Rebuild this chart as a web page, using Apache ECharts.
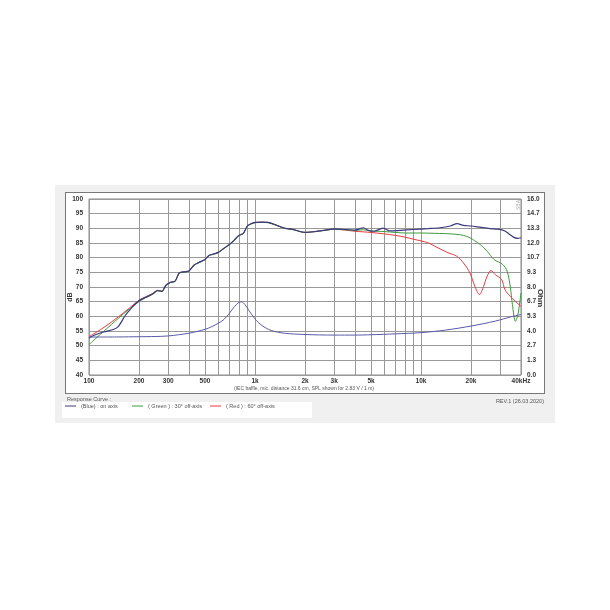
<!DOCTYPE html>
<html>
<head>
<meta charset="utf-8">
<script src="https://cdn.jsdelivr.net/npm/echarts@6/dist/echarts.min.js"></script>
<style>
html,body{margin:0;padding:0;background:#fff;}
#bg{position:absolute;left:55px;top:185px;width:500px;height:238px;background:#f0f0f0;}
#box{position:absolute;left:65px;top:192px;width:478px;height:200px;background:#fff;border:1px solid #777;}
#lg{position:absolute;left:62px;top:402px;width:250px;height:16px;background:#fff;}
#c{position:absolute;left:0;top:0;width:610px;height:610px;}
</style>
</head>
<body>
<div id="bg"></div><div id="box"></div><div id="lg"></div>
<div id="c"></div>
<script>
// ---- data ----
const xTicks = [100,200,300,400,500,600,700,800,900,1000,2000,3000,4000,5000,6000,7000,8000,9000,10000,20000,30000,40000];
const xLabels = [100,200,300,500,1000,2000,3000,5000,10000,20000,40000];

const blueF = [100,110,125,140,150,165,180,200,220,240,260,275,290,310,330,350,380,400,430,460,500,530,560,600,650,700,750,800,850,900,950,1000,1100,1200,1300,1500,1700,2000,2300,2600,3000,3500,4000,4500,4800,5200,5900,6500,7500,9000,11000,13000,15000,16500,18000,20000,23000,26000,29000,32000,34000,36000,38000,40000];
const blueDB = [52.6,53.8,54.8,55.5,56.5,60.2,62.8,65.3,66.5,67.5,68.8,68.5,70.5,71.6,72.0,74.8,75.2,75.5,77.5,78.4,79.4,80.8,81.2,81.8,83.2,84.5,86.0,87.6,88.3,90.8,91.6,92.0,92.1,92.0,91.4,90.1,89.6,88.6,88.9,89.3,89.8,89.6,89.4,90.2,89.3,89.0,90.1,89.1,89.3,89.6,89.9,90.2,90.8,91.6,91.0,90.8,90.3,89.9,89.7,89.1,88.0,87.0,86.6,86.8];

const greenF = [100,110,125,150,175,200,220,240,260,275,290,310,330,350,380,400,430,460,500,530,560,600,650,700,750,800,850,900,950,1000,1100,1200,1300,1500,1700,2000,2300,2600,3000,3500,4000,4500,5000,5500,6000,7000,8000,10000,12000,14000,16000,18000,19700,21000,22700,25000,27500,31000,33000,34500,35500,37000,38300,40000];
const greenDB = [50.3,52.5,55.3,59.3,62.5,65.0,66.4,67.4,68.7,68.4,70.4,71.5,71.9,74.7,75.1,75.4,77.4,78.3,79.3,80.7,81.1,81.7,83.1,84.4,85.9,87.5,88.2,90.7,91.5,91.9,92.0,91.9,91.3,90.0,89.5,88.6,88.9,89.3,89.7,89.5,89.3,89.5,89.1,89.0,88.9,88.6,88.4,88.4,88.3,88.2,88.0,87.6,86.8,85.8,84.5,82.2,79.4,77.7,75.4,70.0,64.0,58.3,60.5,68.0];

const redF = [100,110,125,150,175,200,220,240,260,275,290,310,330,350,380,400,430,460,500,530,560,600,650,700,750,800,850,900,950,1000,1100,1200,1300,1500,1700,2000,2300,2600,3000,3500,4000,5000,6000,7000,8000,9000,10000,11000,12000,14500,16400,18000,19700,21100,22500,23800,25000,26400,28000,30600,32000,34500,37000,40000];
const redDB = [53.1,54.5,56.5,59.8,62.8,65.5,66.7,67.7,68.9,68.6,70.5,71.6,72.0,74.8,75.2,75.5,77.5,78.4,79.4,80.8,81.2,81.8,83.2,84.5,86.0,87.6,88.3,90.8,91.6,92.0,92.1,92.0,91.4,90.1,89.6,88.6,88.9,89.3,89.7,89.4,89.0,88.6,88.1,87.6,87.0,86.3,85.7,85.1,84.0,81.7,80.5,78.2,74.8,70.2,67.4,70.2,73.7,75.6,74.2,72.5,69.1,66.8,65.1,63.4];

const impF = [100,150,200,250,300,400,500,550,600,650,700,750,800,830,870,920,1000,1100,1250,1500,2000,3000,4000,5000,7000,10000,14000,20000,28000,35000,40000];
const impOhm = [3.45,3.46,3.48,3.50,3.55,3.80,4.15,4.40,4.70,5.05,5.60,6.20,6.60,6.65,6.40,5.85,5.10,4.50,4.05,3.80,3.68,3.63,3.63,3.66,3.74,3.85,4.08,4.45,4.90,5.30,5.50];

const zip = (a,b) => a.map((v,i)=>[v,b[i]]);

const chart = echarts.init(document.getElementById('c'), null, {renderer:'canvas'});
const FF = 'Liberation Sans, Arial, sans-serif';
const lab = {color:'#333', fontSize:6.5, fontWeight:'bold', fontFamily:FF};
const option = {
  animation:false,
  backgroundColor:'transparent',
  grid:{left:89, right:89, top:199, bottom:235, show:true, borderColor:'#888', borderWidth:1, backgroundColor:'transparent'},
  xAxis:{
    type:'log', logBase:10, min:100, max:40000,
    axisLine:{show:false},
    axisTick:{show:false, customValues:xTicks},
    splitLine:{show:true, lineStyle:{color:'#999', width:1}},
    axisLabel:Object.assign({customValues:xLabels, margin:3, formatter:v=>{
      if(v<1000) return String(Math.round(v));
      if(v>=40000) return '40kHz';
      return Math.round(v/1000)+'k';
    }}, lab)
  },
  yAxis:[{
    type:'value', min:40, max:100, interval:5,
    axisLine:{show:false}, axisTick:{show:false},
    splitLine:{show:true, lineStyle:{color:'#999', width:1}},
    axisLabel:Object.assign({margin:6}, lab)
  },{
    type:'value', min:0, max:16, interval:16/12, position:'right',
    axisLine:{show:false}, axisTick:{show:false}, splitLine:{show:false},
    axisLabel:Object.assign({margin:6, formatter:v=>v.toFixed(1)}, lab)
  }],
  legend:[
    {data:['(Blue) : on axis'], left:65, top:403},
    {data:['( Green ) : 30° off-axis'], left:132, top:403},
    {data:['( Red ) : 60° off-axis'], left:210, top:403}
  ].map(l=>Object.assign(l,{icon:'rect', itemWidth:11, itemHeight:1, itemGap:4, padding:0,
      textStyle:{color:'#555', fontSize:5.5, fontFamily:FF}})),
  graphic:[
    {type:'text', left:67, top:396, style:{text:'Response Curve :', fill:'#555', fontSize:5.5, fontFamily:FF}},
    {type:'text', left:234, top:386, style:{text:'(IEC baffle, mic. distance 31.6 cm, SPL shown for 2.83 V / 1 m)', fill:'#555', fontSize:5, fontFamily:FF}},
    {type:'text', right:66, top:398, style:{text:'REV.1 (26.03.2020)', fill:'#555', fontSize:5.5, fontFamily:FF}},
    {type:'text', x:70, y:297, rotation:Math.PI/2, style:{text:'dB', fill:'#333', fontSize:7, fontWeight:'bold', fontFamily:FF, align:'center', verticalAlign:'middle'}},
    {type:'text', x:540, y:298, rotation:-Math.PI/2, style:{text:'Ohm', fill:'#333', fontSize:8, fontWeight:'bold', fontFamily:FF, align:'center', verticalAlign:'middle'}},
    {type:'text', x:516, y:210, rotation:Math.PI/2, style:{text:'SBA', fill:'#aaa', fontSize:5, fontFamily:FF}}
  ],
  series:[
    {name:'( Red ) : 60° off-axis', type:'line', data:zip(redF,redDB), showSymbol:false, smooth:0.3, z:2,
      lineStyle:{color:'#e8393f', width:1}, itemStyle:{color:'#e8393f'}},
    {name:'( Green ) : 30° off-axis', type:'line', data:zip(greenF,greenDB), showSymbol:false, smooth:0.3, z:3,
      lineStyle:{color:'#3c9a3c', width:1}, itemStyle:{color:'#3c9a3c'}},
    {name:'(Blue) : on axis', type:'line', data:zip(blueF,blueDB), showSymbol:false, smooth:0.3, z:4,
      lineStyle:{color:'#3a3a7e', width:1.2}, itemStyle:{color:'#3a3a7e'}},
    {name:'Impedance', type:'line', yAxisIndex:1, data:zip(impF,impOhm), showSymbol:false, smooth:0.3, z:5,
      lineStyle:{color:'#5a5aa8', width:1}, itemStyle:{color:'#5a5aa8'}}
  ]
};
chart.setOption(option);
</script>
</body>
</html>
